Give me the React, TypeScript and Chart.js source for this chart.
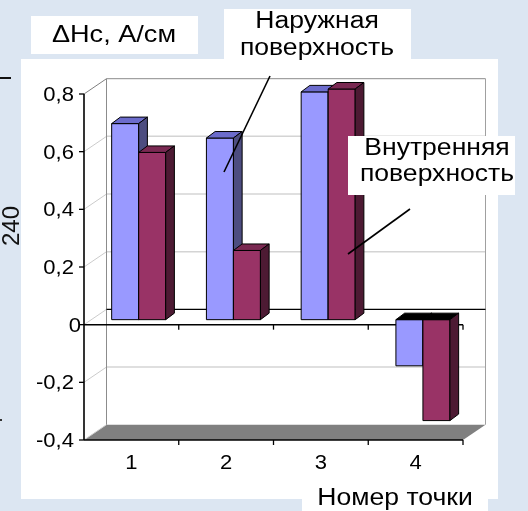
import React, { useEffect, useRef } from "react";
import { Chart, registerables } from "chart.js";

Chart.register(...registerables);

// Coercive-force change per measuring point, outer vs inner surface
const categories = ["1", "2", "3", "4"];
const outerSurface = [0.68, 0.63, 0.79, -0.16];
const innerSurface = [0.58, 0.24, 0.8, -0.35];
const yTickValues = [0.8, 0.6, 0.4, 0.2, 0, -0.2, -0.4];
const seriesLabels = ["Наружная поверхность", "Внутренняя поверхность"];
const yAxisTitle = "ΔHс, А/см";
const xAxisTitle = "Номер точки";

const FONT = '"Liberation Sans", Arial, sans-serif';
const PAGE_BG = "#DCE6F2";
const TEXT_STRETCH = 1.13;

// depth of the 3-D box and of each bar column
const WALL = { dx: 22.5, dy: -15.3 };
const BAR_FRONT = { dx: 7.3, dy: -5 };
const BAR_DEPTH = { dx: 8.7, dy: -6.5 };

const FACES = [
  { front: "#9999FF", top: "#6C6CCC", side: "#4D4D80" },
  { front: "#993366", top: "#7A2952", side: "#4D1A33" },
];

type Pt = [number, number];

function poly(ctx: CanvasRenderingContext2D, pts: Pt[], fill: string, stroke?: string) {
  ctx.beginPath();
  ctx.moveTo(pts[0][0], pts[0][1]);
  for (let i = 1; i < pts.length; i++) ctx.lineTo(pts[i][0], pts[i][1]);
  ctx.closePath();
  ctx.fillStyle = fill;
  ctx.fill();
  if (stroke) {
    ctx.strokeStyle = stroke;
    ctx.lineWidth = 1;
    ctx.lineJoin = "round";
    ctx.stroke();
  }
}

function line(ctx: CanvasRenderingContext2D, a: Pt, b: Pt, color: string, width = 1) {
  ctx.beginPath();
  ctx.moveTo(a[0], a[1]);
  ctx.lineTo(b[0], b[1]);
  ctx.strokeStyle = color;
  ctx.lineWidth = width;
  ctx.stroke();
}

function text(
  ctx: CanvasRenderingContext2D,
  s: string,
  x: number,
  y: number,
  size: number,
  align: CanvasTextAlign = "center",
  stretch = TEXT_STRETCH
) {
  ctx.save();
  ctx.font = `${size}px ${FONT}`;
  ctx.translate(x, y);
  ctx.scale(stretch, 1);
  ctx.textAlign = align;
  ctx.textBaseline = "alphabetic";
  ctx.fillStyle = "#000";
  ctx.fillText(s, 0, 0);
  ctx.restore();
}

function tickText(v: number) {
  return v === 0 ? "0" : String(v).replace(".", ",");
}

const scene3d = {
  id: "scene3d",
  beforeDraw(chart: any) {
    const { ctx } = chart;
    const xs = chart.scales.x;
    const ys = chart.scales.y;
    ctx.save();

    ctx.fillStyle = PAGE_BG;
    ctx.fillRect(0, 0, chart.width, chart.height);

    // bits of the surrounding page at the left edge
    line(ctx, [0, 78], [11, 78], "#111", 2);
    ctx.fillStyle = "#333";
    ctx.fillRect(0, 419, 2, 2);
    ctx.save();
    ctx.translate(19, 246);
    ctx.rotate(-Math.PI / 2);
    ctx.font = `24px ${FONT}`;
    ctx.fillStyle = "#111";
    ctx.textAlign = "left";
    ctx.textBaseline = "alphabetic";
    ctx.fillText("240", 0, 0);
    ctx.restore();

    // chart area and title boxes
    ctx.fillStyle = "#FFFFFF";
    ctx.fillRect(21, 59, 477, 440);
    ctx.fillRect(31, 16, 167, 38);
    ctx.fillRect(302, 474, 186, 37);

    text(ctx, yAxisTitle, 114, 42, 24);
    text(ctx, xAxisTitle, 395, 505, 23.5);

    const L = xs.left;
    const R = xs.right;
    const yTop = ys.getPixelForValue(yTickValues[0]);
    const yBot = ys.getPixelForValue(yTickValues[yTickValues.length - 1]);
    const y0 = ys.getPixelForValue(0);
    const { dx, dy } = WALL;

    // floor
    poly(ctx, [[L, yBot], [R, yBot], [R + dx, yBot + dy], [L + dx, yBot + dy]], "#808080");

    // back wall grid and side-wall diagonals
    yTickValues.forEach((v) => {
      const py = ys.getPixelForValue(v);
      if (v !== 0 && v !== yTickValues[0] && v !== yTickValues[yTickValues.length - 1]) {
        line(ctx, [L + dx, py + dy], [R + dx, py + dy], "#D4D4D4", 1.5);
      }
      line(ctx, [L, py], [L + dx, py + dy], v === yTickValues[0] ? "#808080" : "#CCCCCC", 1);
    });

    // back wall edges
    line(ctx, [L + dx, yTop + dy], [L + dx, yBot + dy], "#8C8C8C", 1);
    line(ctx, [L + dx, yTop + dy], [R + dx, yTop + dy], "#8C8C8C", 1);
    line(ctx, [R + dx, yTop + dy], [R + dx, yBot + dy], "#A0A0A0", 1);

    // zero plane edges
    line(ctx, [L + dx, y0 + dy], [R + dx, y0 + dy], "#000", 1.3);

    const catW = (R - L) / categories.length;
    [y0, yBot].forEach((py) => {
      line(ctx, [L, py], [R, py], "#000", 1.5);
      for (let k = 1; k <= categories.length; k++) {
        const tx = L + k * catW;
        line(ctx, [tx, py], [tx, py + 5], "#000", 1.3);
      }
    });

    // value axis
    line(ctx, [L, yTop], [L, yBot], "#000", 1.6);
    yTickValues.forEach((v) => {
      const py = ys.getPixelForValue(v);
      line(ctx, [L - 5, py], [L, py], "#000", 1.3);
      const s = tickText(v);
      text(ctx, s, s.includes(",") ? 74 : 81, py + 7, 19.5, "right");
    });

    // category labels
    categories.forEach((c, j) => {
      text(ctx, c, xs.getPixelForValue(j), 469, 19.5, "center");
    });

    ctx.restore();
  },

  beforeDatasetsDraw(chart: any) {
    const { ctx } = chart;
    const metas = chart.data.datasets.map((_: any, i: number) => chart.getDatasetMeta(i));
    ctx.save();
    for (let j = 0; j < categories.length; j++) {
      metas.forEach((meta: any, i: number) => {
        const el = meta.data[j];
        const { x, y, base, width } = el.getProps(["x", "y", "base", "width"], true);
        const f = FACES[i];
        const l = x - width / 2 + BAR_FRONT.dx;
        const r = x + width / 2 + BAR_FRONT.dx;
        const t = Math.min(y, base) + BAR_FRONT.dy;
        const b = Math.max(y, base) + BAR_FRONT.dy;
        const negative = y > base;
        const { dx, dy } = BAR_DEPTH;
        poly(ctx, [[l, t], [r, t], [r, b], [l, b]], f.front, "#000");
        poly(ctx, [[l, t], [r, t], [r + dx, t + dy], [l + dx, t + dy]], negative ? "#000" : f.top, "#000");
        poly(ctx, [[r, t], [r + dx, t + dy], [r + dx, b + dy], [r, b]], f.side, "#000");
      });
    }
    ctx.restore();
    return false;
  },

  afterDraw(chart: any) {
    const { ctx } = chart;
    ctx.save();

    // callout for the outer surface series
    ctx.fillStyle = "#FFFFFF";
    ctx.fillRect(224, 9, 187, 50);
    const outer = seriesLabels[0].split(" ");
    text(ctx, outer[0], 317, 27.5, 23.5);
    text(ctx, outer[1], 317, 54.5, 23.5);
    line(ctx, [270, 76], [224, 172], "#000", 1.6);

    // callout for the inner surface series
    ctx.fillStyle = "#FFFFFF";
    ctx.fillRect(348, 136, 167, 59);
    const inner = seriesLabels[1].split(" ");
    text(ctx, inner[0], 437, 154.5, 23.5);
    text(ctx, inner[1], 437, 181, 23.5);
    line(ctx, [410, 209], [348, 254], "#000", 1.6);

    ctx.restore();
  },
};

export default function App() {
  const canvasRef = useRef<HTMLCanvasElement | null>(null);

  useEffect(() => {
    const canvas = canvasRef.current;
    if (!canvas) return;
    const chart = new Chart(canvas, {
      type: "bar",
      data: {
        labels: categories,
        datasets: [
          {
            label: seriesLabels[0],
            data: outerSurface,
            backgroundColor: FACES[0].front,
            categoryPercentage: 0.57,
            barPercentage: 1,
          },
          {
            label: seriesLabels[1],
            data: innerSurface,
            backgroundColor: FACES[1].front,
            categoryPercentage: 0.57,
            barPercentage: 1,
          },
        ],
      },
      options: {
        responsive: false,
        animation: false,
        devicePixelRatio: 1,
        events: [],
        layout: { padding: { left: 84, top: 94, right: 65, bottom: 71 } },
        plugins: {
          legend: { display: false },
          title: { display: false },
          tooltip: { enabled: false },
        },
        scales: {
          x: { display: false },
          y: { display: false, min: -0.4, max: 0.8 },
        },
      },
      plugins: [scene3d],
    });
    return () => chart.destroy();
  }, []);

  return (
    <div style={{ position: "fixed", left: 0, top: 0, width: 528, height: 511 }}>
      <canvas ref={canvasRef} width={528} height={511} style={{ display: "block" }} />
    </div>
  );
}
